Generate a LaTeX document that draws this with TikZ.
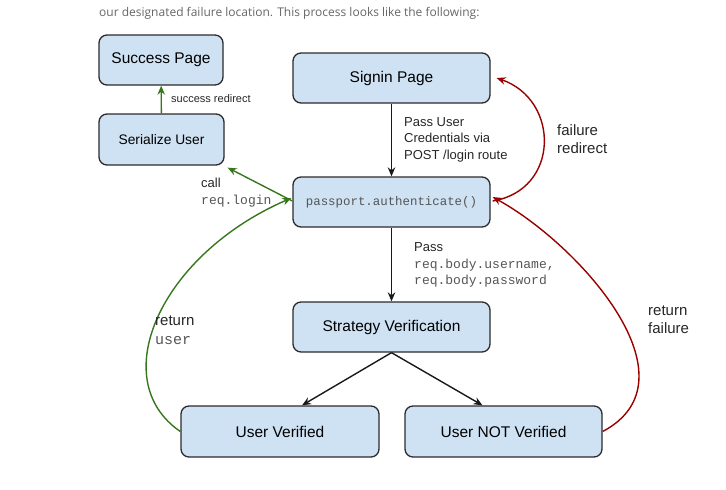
\documentclass[tikz,border=0pt]{standalone}
\usepackage{fontspec}
\setmainfont{Liberation Sans}
\setmonofont{Liberation Mono}
\newfontfamily\headfont{Open Sans}
\usetikzlibrary{arrows.meta,positioning}
\tikzset{>={Stealth[length=9pt,width=7.5pt]}}
\definecolor{boxfill}{HTML}{CFE2F3}
\definecolor{boxline}{HTML}{2B2B2B}
\definecolor{okgreen}{HTML}{38761D}
\definecolor{badred}{HTML}{990000}
\definecolor{codegray}{HTML}{555555}
\definecolor{headgray}{HTML}{666666}
\newcommand{\monotxt}[1]{{\color{codegray}\ttfamily #1}}

\begin{document}
\begin{tikzpicture}[x=1pt,y=-1pt,
    box/.style={draw=boxline,fill=boxfill,rounded corners=8pt,line width=1.3pt,
      minimum width=197pt,minimum height=50pt,font=\fontsize{15.5}{18}\selectfont},
    note/.style={inner sep=0pt,anchor=west,align=left,text=black!85},
    flow/.style={->,line width=1.4pt,black!90}]
    \useasboundingbox (0,0) rectangle (726,490);

    % top text line
    \node[inner sep=0pt,anchor=west,text=headgray,font=\headfont\fontsize{12}{15}\selectfont]
      (head) at (99,13) {our designated failure location. This process looks like the following:};

    % boxes
    \node[box,minimum width=124pt] (succ) at (161,60) {Success Page};
    \node[box,minimum width=125pt,minimum height=51pt,font=\fontsize{13.8}{16}\selectfont] (ser) at (161.5,139.5) {Serialize User};
    \node[box] (signin) at (391.5,78) {Signin Page};
    \node[box,font=\ttfamily\fontsize{12.4}{15}\selectfont,text=codegray] (auth) at (391.5,202) {passport.authenticate()};
    \node[box] (strat) at (391.5,327) {Strategy Verification};
    \node[box,minimum width=198pt,minimum height=51pt] (uv) at (280,431.5) {User Verified};
    \node[box,minimum height=51pt] (unv) at (503.5,431.5) {User NOT Verified};

    % black flow
    \draw[flow] (signin) -- (auth);
    \draw[flow] (auth) -- (strat);
    \draw[flow] (strat.south) -- ([xshift=22pt]uv.north);
    \draw[flow] (strat.south) -- ([xshift=-21pt]unv.north);

    % green (success) path
    \draw[flow,okgreen] (ser) -- (succ);
    \draw[flow,okgreen] ([yshift=1pt]auth.west) -- ([xshift=3pt,yshift=-2pt]ser.south east);
    \draw[flow,okgreen] (uv.west) .. controls (105,380) and (160,255) .. ([xshift=-1pt,yshift=4pt]auth.west);

    % red (failure) path
    \draw[flow,badred] (unv.east) .. controls (700,380) and (580,245) .. ([xshift=2pt,yshift=5pt]auth.east);
    \draw[flow,badred] ([xshift=2pt,yshift=1pt]auth.east) .. controls (560,190) and (560,100) .. ([xshift=6pt]signin.east);

    % labels
    \node[note,font=\fontsize{11}{13}\selectfont] (lsucc) at (171,99) {success redirect};
    \node[note,font=\fontsize{13}{16.5}\selectfont] (lpost) at (404,139.5) {Pass User\\Credentials via\\POST /login route};
    \node[note,font=\fontsize{13}{16.5}\selectfont] (lpass) at (414,265) {Pass\\\monotxt{req.body.username,}\\\monotxt{req.body.password}};
    \node[note,font=\fontsize{13}{17}\selectfont] (lcall) at (201,192.5) {call\\\monotxt{req.login}};
    \node[note,font=\fontsize{15}{19}\selectfont] (luser) at (155,330.5) {return\\\monotxt{user}};
    \node[note,font=\fontsize{15}{17.5}\selectfont] (lfail) at (648,319.5) {return\\failure};
    \node[note,font=\fontsize{15}{18}\selectfont] (lredir) at (557,139) {failure\\redirect};
\end{tikzpicture}
\end{document}
